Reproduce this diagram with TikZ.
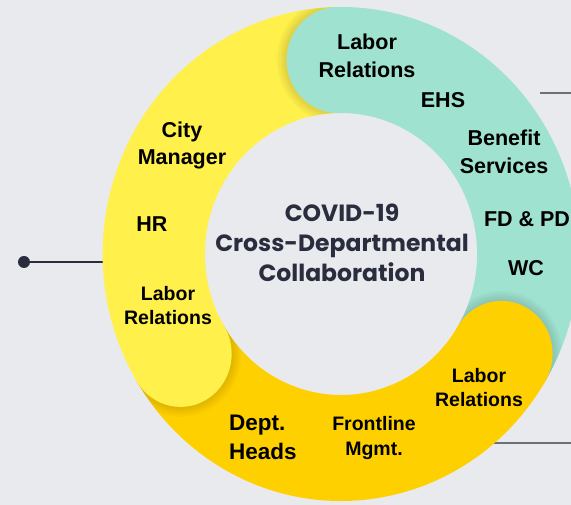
\documentclass[tikz,border=0pt]{standalone}
\usepackage{fontspec}
\setmainfont{Liberation Sans}
\newfontfamily\titlefont{Poppins}
\definecolor{bgray}{RGB}{233,234,238}
\definecolor{navy}{RGB}{42,45,62}
\definecolor{linegray}{RGB}{110,112,121}
\definecolor{lemon}{RGB}{255,240,75}
\definecolor{gold}{RGB}{255,208,0}
\definecolor{mint}{RGB}{160,226,208}
% one ring segment between two angles
\newcommand\ringpart[2]{(#1:247) arc[start angle=#1, end angle=#2, radius=247]
	-- (#2:141) arc[start angle=#2, end angle=#1, radius=141] -- cycle}
\begin{document}
\begin{tikzpicture}[x=1pt, y=1pt,
    lbl/.style={font=\bfseries\fontsize{21.5}{28}\selectfont, align=center, inner sep=0pt},
    lblsm/.style={font=\bfseries\fontsize{19.5}{24}\selectfont, align=center, inner sep=0pt},
    link/.style={line width=1.5pt},
    capshade/.style={black, opacity=0.025}]
	% backdrop
	\fill[bgray] (0,0) rectangle (571,505);
	\useasboundingbox (0,0) rectangle (571,505);
	\clip (0,0) rectangle (571,505);

	% connectors, drawn under the ring
	\node[circle, fill=navy, inner sep=0pt, minimum size=12pt] (dot) at (24,243) {};
	\coordinate (ringW) at (125,243);
	\coordinate (ringNE) at (540,412);
	\coordinate (edgeNE) at (571,412);
	\coordinate (ringSE) at (480,62);
	\coordinate (edgeSE) at (571,62);
	\draw[link, navy] (dot) -- (ringW);
	\draw[link, linegray] (ringNE) -- (edgeNE);
	\draw[link, linegray] (ringSE) -- (edgeSE);

	% ring segments
	\begin{scope}[shift={(341,251)}, xscale=0.965]
		\fill[mint] \ringpart{91}{-31};
		\fill[gold] \ringpart{-31}{-149};
		\fill[lemon] \ringpart{211}{91};
		% soft shadows of the caps
		\begin{scope}
			\clip \ringpart{211}{91};
			\foreach \s in {1,...,5} \fill[capshade] (91:194) circle[radius=53+2*\s];
		\end{scope}
		\begin{scope}
			\clip \ringpart{91}{-31};
			\foreach \s in {1,...,5} \fill[capshade] (-31:194) circle[radius=53+2*\s];
		\end{scope}
		\begin{scope}
			\clip \ringpart{-31}{-149};
			\foreach \s in {1,...,5} \fill[capshade] (211:194) circle[radius=53+2*\s];
		\end{scope}
		% round caps
		\fill[lemon] (211:194) circle[radius=53];
		\fill[mint] (91:194) circle[radius=53];
		\fill[gold] (-31:194) circle[radius=53];
	\end{scope}

	% centre title
	\node[font=\titlefont\bfseries\fontsize{23.5}{30}\selectfont, text=navy, align=center] (title) at (342,262)
		{COVID-19\\Cross-Departmental\\Collaboration};

	% teal labels
	\node[lbl] (laborTop) at (367,449) {Labor\\Relations};
	\node[lbl] (ehs) at (443,405) {EHS};
	\node[lbl] (benefit) at (504,353) {Benefit\\Services};
	\node[lbl] (fdpd) at (527,286) {FD \& PD};
	\node[lbl] (wc) at (526,237) {WC};

	% lemon labels
	\node[lbl, font=\bfseries\fontsize{21.5}{27}\selectfont] (city) at (182,360) {City\\Manager};
	\node[lbl] (hr) at (152,281) {HR};
	\node[lblsm] (laborLeft) at (168,199) {Labor\\Relations};

	% gold labels
	\node[lbl, align=left, anchor=west, font=\bfseries\fontsize{22.5}{29}\selectfont] (dept) at (229,68) {Dept.\\Heads};
	\node[lblsm, font=\bfseries\fontsize{19.5}{25}\selectfont] (frontline) at (374,67) {Frontline\\Mgmt.};
	\node[lblsm] (laborRight) at (479,117) {Labor\\Relations};
\end{tikzpicture}
\end{document}
